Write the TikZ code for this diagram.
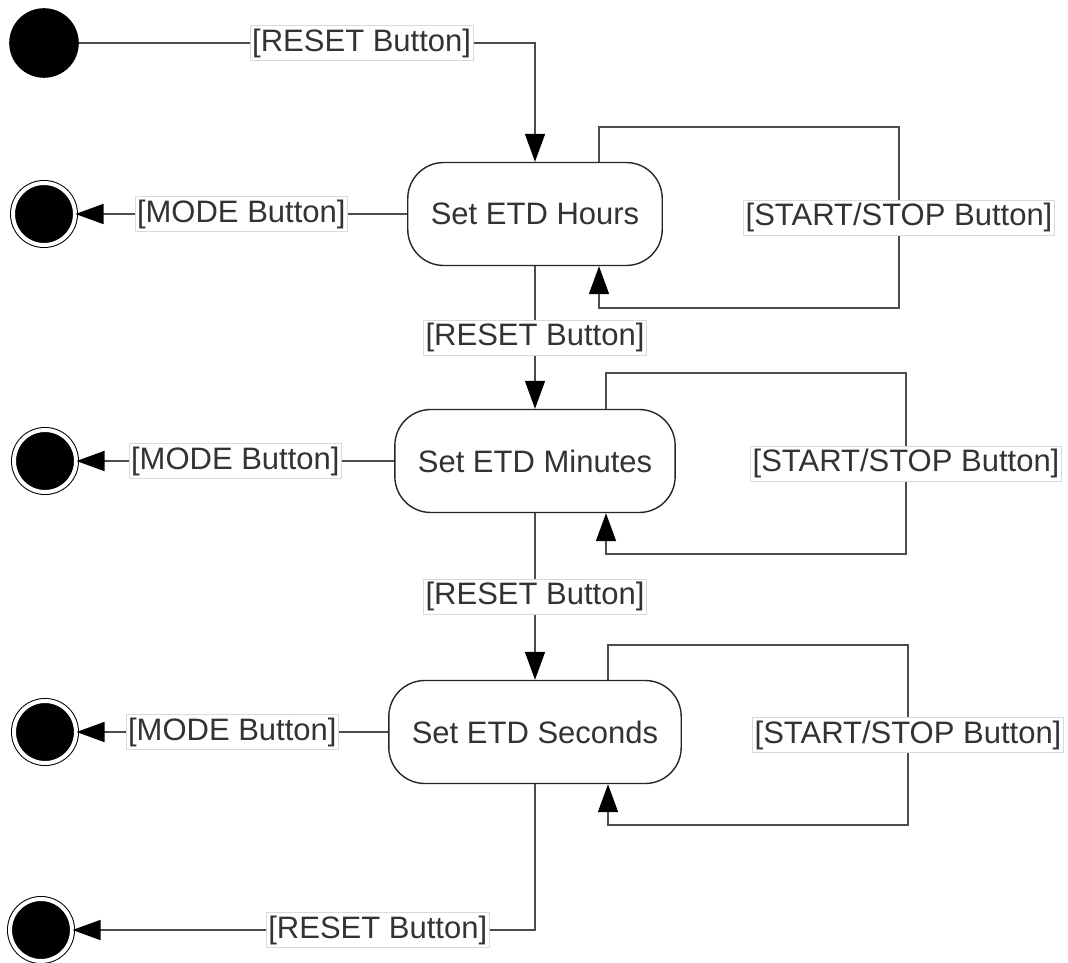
\documentclass[tikz,border=0pt]{standalone}
\usepackage{fontspec}
\setmainfont{Liberation Sans}
\usetikzlibrary{arrows.meta,positioning}

\begin{document}
\begin{tikzpicture}[->, x=1pt, y=1pt, line width=1.6pt, color=black!70,
  >={Triangle[length=28pt,width=20pt,color=black]}]
\tikzset{every node/.style={font=\fontsize{31}{36}\selectfont, text=black!80}}
\tikzset{state/.style={rectangle, rounded corners=36pt, draw=black!85, line width=1.4pt, fill=white, minimum height=103pt, inner xsep=23pt}}
\tikzset{lbl/.style={fill=white, draw=black!15, line width=0.8pt, inner xsep=2pt, inner ysep=3pt}}
\tikzset{initial/.style={circle, fill=black, draw=black, minimum size=68pt, inner sep=0pt}}
\tikzset{final/.style={circle, fill=black, draw=black, double=white, double distance=4pt, line width=1pt, minimum size=62pt, inner sep=0pt}}
\useasboundingbox (0,0) rectangle (1068,-963);
\node[initial] (start) at (44,-43) {};
\node[state] (hours) at (535,-214) {Set ETD Hours};
\node[state] (minutes) at (535,-461) {Set ETD Minutes};
\node[state] (seconds) at (535,-732) {Set ETD Seconds};
\node[final] (end1) at (44,-214) {};
\node[final] (end2) at (45,-461) {};
\node[final] (end3) at (45,-732) {};
\node[final] (end4) at (41,-930) {};
\draw (start) -| node[lbl, pos=0.31] {[RESET Button]} (hours);
\path (hours) edge node[lbl] {[MODE Button]} (end1);
\path (minutes) edge node[lbl] {[MODE Button]} (end2);
\path (seconds) edge node[lbl] {[MODE Button]} (end3);
\path (hours) edge node[lbl] {[RESET Button]} (minutes);
\path (minutes) edge node[lbl] {[RESET Button]} (seconds);
\draw (seconds) |- node[lbl, pos=0.67] {[RESET Button]} (end4);
\draw ([xshift=64]hours.north) |- (899,-127) -- node[lbl] {[START/STOP Button]} (899,-308) -| ([xshift=64]hours.south);
\draw ([xshift=71]minutes.north) |- (906,-373) -- node[lbl] {[START/STOP Button]} (906,-554) -| ([xshift=71]minutes.south);
\draw ([xshift=73]seconds.north) |- (908,-645) -- node[lbl] {[START/STOP Button]} (908,-825) -| ([xshift=73]seconds.south);
\end{tikzpicture}
\end{document}
